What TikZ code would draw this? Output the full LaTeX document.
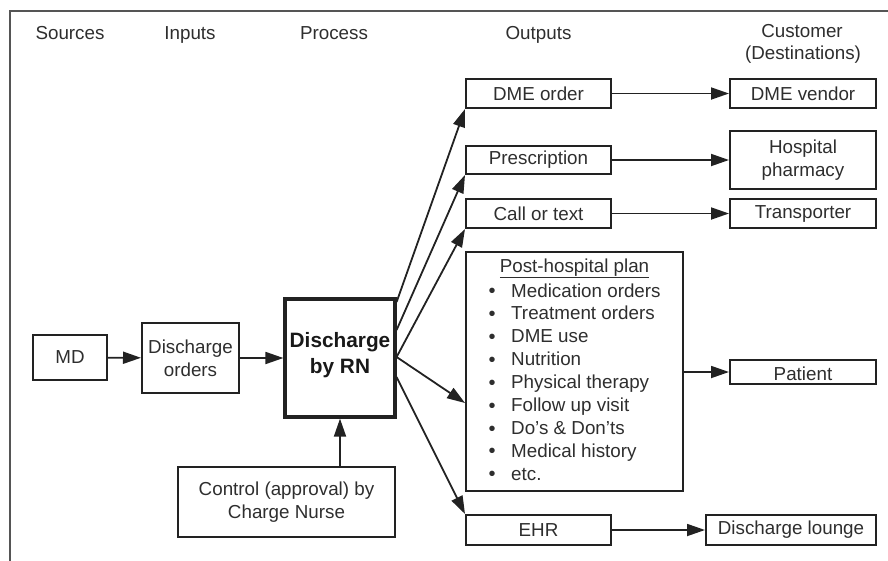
\documentclass[tikz,border=0pt]{standalone}
\usepackage{fontspec}
\setmainfont{Liberation Sans}
\usetikzlibrary{arrows.meta}
\definecolor{ink}{HTML}{222222}
\definecolor{txt}{HTML}{2E2E2E}
\definecolor{framec}{HTML}{555555}
\begin{document}
\begin{tikzpicture}[x=1pt,y=-1pt,
  every node/.style={font=\fontsize{18.8}{22.9}\selectfont, text=txt},
  box/.style={draw=ink, line width=2pt, align=center, inner sep=0pt},
  arr/.style={draw=ink, line width=1.8pt, -{Triangle[length=18pt,width=12pt]}},
  hdr/.style={anchor=base}]
\useasboundingbox (0,0) rectangle (888,560);
\draw[line width=2.2pt, framec] (10,580) -- (10,11) -- (900,11);
% headers
\node[hdr] (hsrc) at (70,39.5) {Sources};
\node[hdr] (hin) at (190,39.5) {Inputs};
\node[hdr] (hproc) at (334,39.5) {Process};
\node[hdr] (hout) at (538.5,39.5) {Outputs};
\node[hdr] (hcust) at (802,37.5) {Customer};
\node[hdr] (hdest) at (803,59) {(Destinations)};
% left part
\node[box, minimum width=74pt, minimum height=45pt] (md) at (70,357.5) {MD};
\node[box, minimum width=97pt, minimum height=70pt] (dord) at (190.5,358) {Discharge\\orders};
\node[box, line width=3.2pt, minimum width=110pt, minimum height=118pt] (rn) at (340,358) {};
\node[font=\fontsize{20.8}{25.5}\selectfont\bfseries, align=center, text=black!90] (rntxt) at (340,355) {Discharge\\by RN};
\node[box, minimum width=217pt, minimum height=70pt] (ctrl) at (286.5,502) {Control (approval) by\\Charge Nurse};
% outputs
\node[box, minimum width=145pt, minimum height=29pt] (dme) at (538.5,93.5) {DME order};
\node[box, minimum width=145pt, minimum height=28pt] (presc) at (538.5,160) {Prescription};
\node[box, minimum width=145pt, minimum height=29pt] (call) at (538.5,213.5) {Call or text};
\node[box, minimum width=217pt, minimum height=239pt] (plan) at (574.5,371.5) {};
\node[box, minimum width=145pt, minimum height=30pt] (ehr) at (538.5,530) {EHR};
% plan content
\node[anchor=base] (ptitle) at (574.5,272) {\underline{Post-hospital plan}};
\foreach \t [count=\i from 0] in {Medication orders, Treatment orders, DME use, Nutrition, Physical therapy, Follow up visit, Do's \& Don'ts, Medical history, etc.} {
  \node[anchor=base west, inner xsep=0pt] (item\i) at (511,297+22.9*\i) {\t};
  \node[font=\fontsize{20}{20}\selectfont] (bul\i) at (492,293+22.9*\i) {•};
}
% customers
\node[box, minimum width=146pt, minimum height=29pt] (vendor) at (803,93.5) {DME vendor};
\node[box, minimum width=146pt, minimum height=58pt] (pharm) at (803,160) {Hospital\\pharmacy};
\node[box, minimum width=146pt, minimum height=29pt] (transp) at (803,213.5) {Transporter};
\node[box, minimum width=146pt, minimum height=24pt] (patient) at (803,372) {};
\node (pattxt) at (803,374) {Patient};
\node[box, minimum width=170pt, minimum height=30pt] (lounge) at (791,530) {Discharge lounge};
% connectors
\draw[arr] (md) -- (dord);
\draw[arr] (dord) -- (rn);
\draw[arr] (rn.south |- ctrl.north) -- (rn.south);
\draw[arr] ([yshift=56pt]rn.east) -- (dme.south west);
\draw[arr] ([yshift=28pt]rn.east) -- (presc.south west);
\draw[arr] ([yshift=1pt]rn.east) -- (call.south west);
\draw[arr] ([yshift=1pt]rn.east) -- ([yshift=-31.5pt]plan.west);
\draw[arr] ([yshift=-19pt]rn.east) -- (ehr.north west);
\draw[arr] (dme) -- (vendor);
\draw[arr] (presc) -- (pharm);
\draw[arr] (call) -- (transp);
\draw[arr] (plan.east |- patient.west) -- (patient.west);
\draw[arr] (ehr) -- (lounge);
\end{tikzpicture}
\end{document}
